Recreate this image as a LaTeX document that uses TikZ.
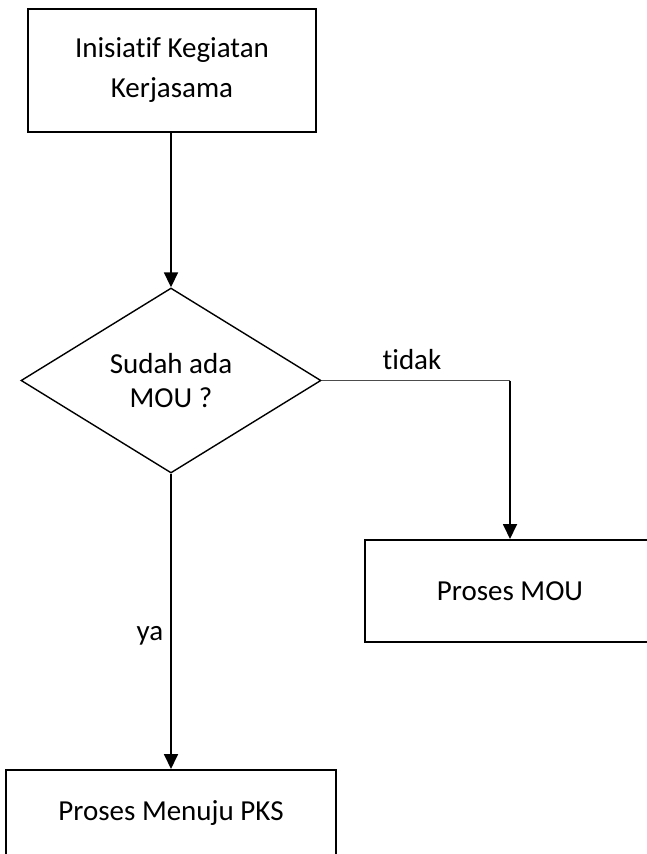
\documentclass[tikz,border=0pt]{standalone}
\usepackage{fontspec}
\setmainfont[Ligatures=NoCommon]{Carlito}
\usetikzlibrary{shapes.geometric,arrows.meta,positioning}

\begin{document}
\begin{tikzpicture}[x=1pt,y=-1pt,
  box/.style={draw,line width=2pt,inner sep=0pt,align=center,font=\fontsize{29}{40}\selectfont},
  decision/.style={draw,diamond,line width=1.4pt,inner sep=0pt,aspect=1.62,minimum width=300,minimum height=185,align=center,font=\fontsize{29}{34}\selectfont},
  arr/.style={line width=1.8pt,-{Triangle[length=15pt,width=14pt]}},
  lbl/.style={font=\fontsize{29}{34}\selectfont}]
\useasboundingbox (0,0) rectangle (647,854);

\node (inisiatif) at (172,70.5) [box,minimum width=288,minimum height=123] {Inisiatif Kegiatan\\Kerjasama};
\node (mou) at (171,380.5) [decision] {Sudah ada\\MOU ?};
\node (prosesmou) at (510,591) [box,minimum width=290,minimum height=102] {Proses MOU};
\node (pks) at (171,813) [box,minimum width=330,minimum height=86] {Proses Menuju PKS};

\coordinate (belok) at (prosesmou.north |- mou.east);

\draw[arr] (mou.north |- inisiatif.south) -- (mou.north);
\draw[line width=0.8pt,black!70] (mou.east) -- (belok);
\draw[arr] (belok) -- (prosesmou.north);
\draw[arr] (mou.south) -- (pks.north);

\node (tidak) at (412,360) [lbl] {tidak};
\node (ya) at (150,636) [lbl] {ya};
\end{tikzpicture}
\end{document}
